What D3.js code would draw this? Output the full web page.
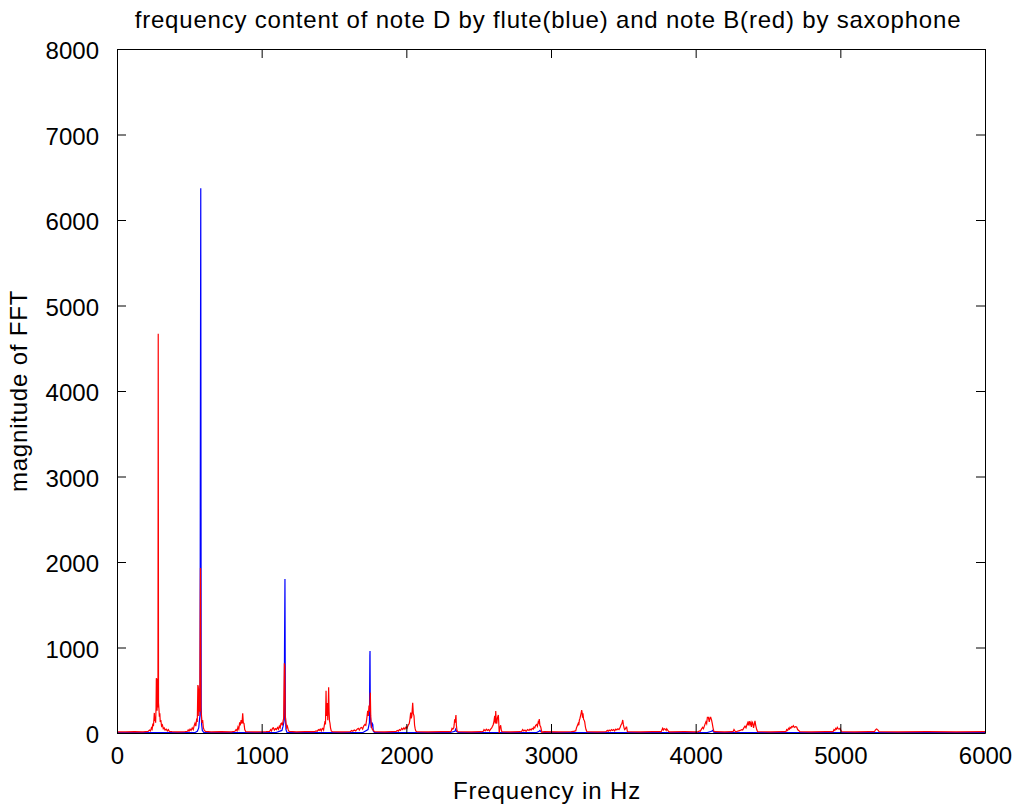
<!DOCTYPE html>
<html>
<head>
<meta charset="utf-8">
<script src="https://cdn.jsdelivr.net/npm/d3@7"></script>
<style>
  html, body { margin: 0; padding: 0; background: #fff; }
  svg { display: block; }
  text { font-family: "Liberation Sans", Arial, Helvetica, sans-serif; fill: #000; }
</style>
</head>
<body>
<div id="chart"></div>
<script>
// ---------- data ----------
const titleText = "frequency content of note D by flute(blue) and note B(red) by saxophone";
const xLabelText = "Frequency in Hz";
const yLabelText = "magnitude of FFT";
const xTicks = [0, 1000, 2000, 3000, 4000, 5000, 6000];
const yTicks = [0, 1000, 2000, 3000, 4000, 5000, 6000, 7000, 8000];

// flute, note D : [frequency Hz, |FFT|]
const fluteSpectrum = [
  [0,5],[400,4],[540,6],[555,20],[565,60],[570,150],[574,210],[576,3150],[579,6370],[582,300],[585,100],[590,30],[600,6],
  [900,5],[1100,6],[1140,30],[1148,80],[1152,113],[1156,150],[1158,1000],[1161,1800],[1164,200],[1168,40],[1175,6],
  [1500,5],[1700,6],[1735,40],[1745,120],[1748,900],[1749,959],[1751,200],[1758,60],[1764,113],[1768,100],[1772,20],[1780,5],
  [2300,5],[2336,20],[2341,43],[2346,20],[2360,5],[2900,5],[2918,20],[2924,30],[2930,15],[2950,5],
  [4080,5],[4110,20],[4118,30],[4125,10],[4140,5],[6000,5]
];

// saxophone, note B : [frequency Hz, |FFT|]
const saxSpectrum = [
  [0,14],[60,12],[120,16],[180,13],[215,18],
  [225,35],[232,25],[238,60],[243,45],[248,110],[252,80],[256,180],[258,235],[261,140],[264,190],[267,120],[270,300],[272,640],[275,630],[277,260],[280,420],[283,300],[285,4670],[287,350],[290,280],[293,190],[296,230],[299,130],[303,150],[308,80],[314,95],[320,50],[326,60],[332,35],[340,45],[348,25],[355,40],[362,18],[380,15],[420,13],[470,16],
  [488,20],[492,35],[498,22],[505,45],[512,30],[520,60],[527,40],[534,90],[539,115],[545,80],[550,150],[555,130],[559,560],[562,540],[565,200],[569,520],[572,250],[577,1930],[580,260],[583,230],[587,120],[592,150],[597,60],[603,35],[610,18],[650,14],[720,16],[790,13],
  [815,20],[823,40],[830,25],[836,70],[842,45],[848,125],[852,90],[858,150],[864,110],[869,230],[873,120],[878,110],[883,40],[890,15],[960,14],[1030,16],
  [1055,18],[1062,40],[1068,25],[1075,55],[1081,60],[1088,35],[1095,50],[1102,40],[1110,65],[1116,45],[1122,80],[1128,60],[1133,110],[1138,115],[1143,90],[1148,140],[1152,170],[1157,815],[1160,780],[1163,200],[1168,120],[1173,60],[1178,80],[1184,35],[1190,18],[1240,14],[1300,16],
  [1365,15],[1376,25],[1384,20],[1392,40],[1398,30],[1405,45],[1412,25],[1418,50],[1422,55],[1428,35],[1433,90],[1438,140],[1441,100],[1445,495],[1448,200],[1451,260],[1454,350],[1457,150],[1460,300],[1463,534],[1466,250],[1469,140],[1472,115],[1476,60],[1481,25],[1488,15],[1550,14],
  [1612,16],[1622,30],[1630,20],[1640,35],[1650,25],[1660,45],[1668,55],[1675,35],[1683,60],[1691,65],[1698,45],[1705,80],[1714,100],[1720,90],[1726,160],[1733,260],[1738,200],[1742,320],[1746,250],[1751,472],[1754,200],[1757,110],[1760,65],[1766,40],[1772,30],[1780,15],[1850,14],[1900,16],
  [1930,18],[1937,30],[1945,22],[1952,40],[1960,30],[1968,55],[1975,40],[1983,60],[1990,45],[1998,70],[2005,55],[2012,90],[2020,110],[2025,160],[2030,240],[2034,170],[2038,200],[2044,354],[2048,230],[2053,200],[2057,90],[2061,50],[2065,25],[2072,15],[2150,14],[2250,16],[2300,15],
  [2310,20],[2316,55],[2322,45],[2328,60],[2331,100],[2334,160],[2338,120],[2341,180],[2343,211],[2346,90],[2350,30],[2356,15],[2450,14],[2520,15],
  [2532,20],[2537,40],[2545,25],[2553,45],[2560,30],[2568,40],[2575,25],[2583,45],[2590,60],[2596,80],[2601,100],[2606,140],[2611,200],[2615,110],[2618,257],[2621,150],[2625,110],[2630,180],[2636,210],[2639,120],[2642,0],[2646,60],[2652,90],[2656,40],[2660,15],[2720,14],[2790,15],
  [2797,18],[2804,40],[2812,25],[2820,35],[2828,20],[2838,40],[2848,30],[2855,45],[2862,35],[2870,55],[2877,45],[2882,70],[2888,60],[2894,90],[2901,100],[2906,80],[2912,130],[2916,120],[2919,164],[2923,90],[2929,70],[2934,30],[2938,0],[2943,12],[2950,15],[3050,14],[3140,15],
  [3160,18],[3166,25],[3171,25],[3176,60],[3182,85],[3188,110],[3192,90],[3196,150],[3200,170],[3204,200],[3208,230],[3212,269],[3215,240],[3218,180],[3221,230],[3225,160],[3229,150],[3233,130],[3238,70],[3242,40],[3248,15],[3320,14],[3380,15],
  [3389,30],[3395,20],[3402,35],[3410,25],[3418,40],[3425,30],[3433,40],[3440,25],[3448,45],[3455,35],[3462,50],[3470,40],[3477,60],[3483,90],[3490,110],[3496,152],[3500,100],[3505,60],[3509,40],[3515,50],[3520,70],[3523,70],[3528,15],[3620,14],[3700,15],
  [3762,15],[3768,40],[3772,55],[3777,35],[3783,50],[3790,45],[3796,30],[3800,50],[3806,35],[3812,20],[3818,14],[3920,15],[4010,14],
  [4018,15],[4025,25],[4032,20],[4040,45],[4048,65],[4054,50],[4060,80],[4066,110],[4071,130],[4076,110],[4081,184],[4088,184],[4094,130],[4100,184],[4104,184],[4110,150],[4115,110],[4120,60],[4126,20],[4134,15],[4200,14],[4255,15],
  [4260,20],[4265,40],[4271,25],[4278,12],[4288,20],[4298,25],[4308,30],[4318,40],[4325,35],[4333,60],[4341,80],[4348,60],[4355,100],[4360,120],[4364,90],[4370,140],[4375,100],[4380,120],[4385,70],[4390,130],[4394,120],[4400,60],[4405,100],[4410,143],[4415,90],[4422,40],[4428,15],[4520,14],[4600,15],
  [4624,15],[4629,40],[4636,30],[4642,55],[4648,45],[4652,65],[4658,55],[4664,75],[4670,70],[4675,85],[4682,65],[4690,75],[4698,70],[4705,40],[4712,30],[4720,15],[4800,14],[4900,15],
  [4950,15],[4956,40],[4962,30],[4968,55],[4974,45],[4979,67],[4985,50],[4992,45],[4998,55],[5004,30],[5010,15],[5100,14],[5200,15],
  [5236,15],[5242,35],[5248,45],[5251,47],[5256,40],[5262,30],[5268,15],[5400,14],[5600,15],[5800,14],[6000,15]
];

// ---------- layout ----------
const W = 1016, H = 808;
const plot = { left: 117, right: 985, top: 49, bottom: 733 };
const tickLen = 9;

const svg = d3.select("#chart").append("svg").attr("width", W).attr("height", H);

const x = d3.scaleLinear().domain([0, 6000]).range([plot.left, plot.right]);
const y = d3.scaleLinear().domain([0, 8000]).range([plot.bottom, plot.top]);

svg.append("defs").append("clipPath").attr("id", "clip")
  .append("rect").attr("x", plot.left).attr("y", plot.top - 1)
  .attr("width", plot.right - plot.left + 2).attr("height", plot.bottom - plot.top + 1);

const line = d3.line().x(d => x(d[0])).y(d => y(d[1]));

const g = svg.append("g").attr("clip-path", "url(#clip)");
g.append("path").datum(fluteSpectrum).attr("d", line)
  .attr("fill", "none").attr("stroke", "#0000ff").attr("stroke-width", 1.2);
g.append("path").datum(saxSpectrum).attr("d", line)
  .attr("fill", "none").attr("stroke", "#ff0000").attr("stroke-width", 1.2);

// ---------- axes (MATLAB style box with inward ticks) ----------
const fmt = d3.format("d");
const axB = d3.axisBottom(x).tickValues(xTicks).tickFormat(fmt).tickSizeInner(-tickLen).tickSizeOuter(0).tickPadding(14);
const axT = d3.axisTop(x).tickValues(xTicks).tickFormat("").tickSizeInner(-tickLen).tickSizeOuter(0);
const axL = d3.axisLeft(y).tickValues(yTicks).tickFormat(fmt).tickSizeInner(-tickLen).tickSizeOuter(0).tickPadding(18);
const axR = d3.axisRight(y).tickValues(yTicks).tickFormat("").tickSizeInner(-tickLen).tickSizeOuter(0);

function styleAxis(sel) {
  sel.select(".domain").attr("stroke", "#000").attr("stroke-width", 1);
  sel.selectAll(".tick line").attr("stroke", "#000").attr("stroke-width", 1);
  sel.selectAll(".tick text").attr("font-size", 24).attr("fill", "#000")
     .attr("font-family", "'Liberation Sans', Arial, sans-serif");
}
svg.append("g").attr("transform", `translate(0,${plot.bottom})`).call(axB).call(styleAxis);
svg.append("g").attr("transform", `translate(0,${plot.top})`).call(axT).call(styleAxis);
svg.append("g").attr("transform", `translate(${plot.left},0)`).call(axL).call(styleAxis)
   .selectAll(".tick text").attr("dy", "0.40em");
svg.append("g").attr("transform", `translate(${plot.right},0)`).call(axR).call(styleAxis);

// ---------- texts ----------
svg.append("text").attr("x", 548).attr("y", 28).attr("text-anchor", "middle")
  .attr("font-size", 24).attr("letter-spacing", 0.8).text(titleText);
svg.append("text").attr("x", 547).attr("y", 799).attr("text-anchor", "middle")
  .attr("font-size", 24).attr("letter-spacing", 0.9).text(xLabelText);
svg.append("text").attr("transform", `translate(27,${(plot.top + plot.bottom) / 2}) rotate(-90)`)
  .attr("text-anchor", "middle").attr("font-size", 24).attr("letter-spacing", 0.8).text(yLabelText);
</script>
</body>
</html>
